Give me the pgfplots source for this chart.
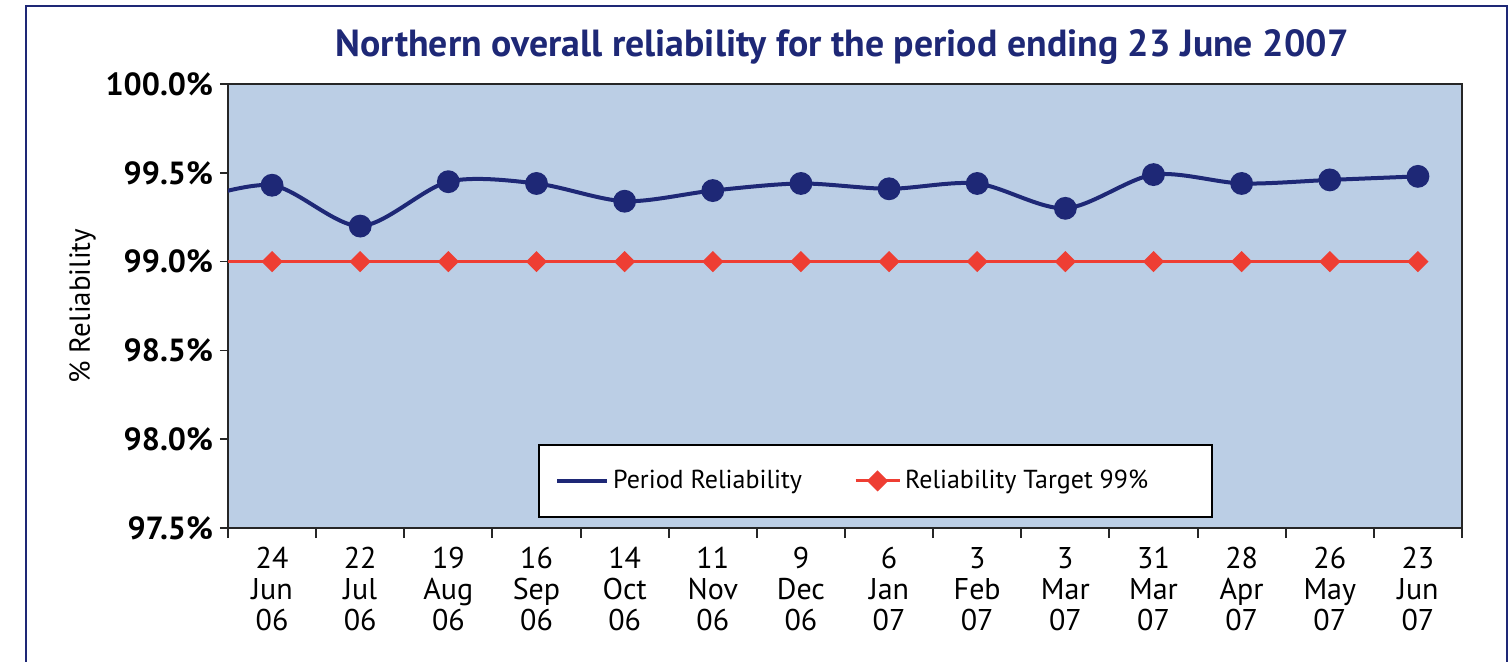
\documentclass[border=0pt]{standalone}
\usepackage{fontspec}
\setmainfont{PT Sans}
\usepackage{pgfplots}
\pgfplotsset{compat=1.18}
\definecolor{navy}{RGB}{30,40,118}
\definecolor{bgblue}{RGB}{187,206,229}
\definecolor{tred}{RGB}{238,62,51}
\begin{document}
\begin{tikzpicture}
\useasboundingbox (0,0) rectangle (755pt,330.5pt);
\draw[navy, line width=1.3pt] (13pt,-10pt) -- (13pt,327.5pt) -- (753.5pt,327.5pt) -- (753.5pt,-10pt);
\node[anchor=base, font=\bfseries\fontsize{18.9}{22}\selectfont, text=navy, inner sep=0pt] at (421pt,302.5pt) {Northern overall reliability for the period ending 23 June 2007};
\begin{axis}[
  at={(114pt,66.5pt)}, anchor=south west,
  scale only axis, width=617pt, height=222pt,
  xmin=-0.5, xmax=13.5, ymin=97.5, ymax=100,
  axis background/.style={fill=bgblue},
  axis line style={line width=1pt, draw=black!85},
  xtick={0,...,13},
  xticklabels={{24\\Jun\\06},{22\\Jul\\06},{19\\Aug\\06},{16\\Sep\\06},{14\\Oct\\06},{11\\Nov\\06},{9\\Dec\\06},{6\\Jan\\07},{3\\Feb\\07},{3\\Mar\\07},{31\\Mar\\07},{28\\Apr\\07},{26\\May\\07},{23\\Jun\\07}},
  x tick label style={align=center, font=\fontsize{15}{15.5}\selectfont, yshift=-2pt},
  minor xtick={-0.5,0.5,...,13.5},
  major x tick style={draw=none},
  minor x tick style={line width=1pt, black!85},
  minor tick length=5pt,
  major tick length=4pt,
  tick align=outside,
  xtick pos=bottom, ytick pos=left,
  ytick={97.5,98,98.5,99,99.5,100},
  yticklabels={97.5\%,98.0\%,98.5\%,99.0\%,99.5\%,100.0\%},
  y tick label style={font=\bfseries\fontsize{16}{18}\selectfont},
  y tick style={line width=0.8pt, black!85},
  ylabel={\% Reliability},
  ylabel style={at={(axis description cs:-0.118,0.5)}, anchor=center, font=\fontsize{14.5}{16}\selectfont},
  legend columns=2,
  legend style={at={(axis description cs:0.2512,0.106)}, anchor=west, draw=black, line width=1.2pt, fill=white,
    font=\fontsize{13}{15}\selectfont, inner xsep=8pt, inner ysep=10.5pt,
    /tikz/every even column/.append style={column sep=24pt}},
]
\addplot[navy, line width=2pt, smooth, mark=*, mark size=4.7pt, mark options={fill=navy, draw=navy},
  legend image code/.code={\draw[navy!85!blue, line width=2pt] (0pt,0pt) -- (21pt,0pt); \path (0pt,0pt) -- (25pt,0pt);}]
  coordinates {(-1,99.33) (0,99.43) (1,99.20) (2,99.45) (3,99.44) (4,99.34) (5,99.40) (6,99.44) (7,99.41) (8,99.44) (9,99.30) (10,99.49) (11,99.44) (12,99.46) (13,99.48)};
\addlegendentry{Period Reliability}
\addplot[tred, line width=1.5pt, mark=square*, mark size=3pt, mark options={fill=tred, draw=tred, rotate=45},
  legend image code/.code={\draw[tred, line width=1.5pt] (0pt,0pt) -- (22pt,0pt); \fill[tred] (11pt,4.2pt) -- (15.2pt,0pt) -- (11pt,-4.2pt) -- (6.8pt,0pt) -- cycle;}]
  coordinates {(-1,99) (0,99) (1,99) (2,99) (3,99) (4,99) (5,99) (6,99) (7,99) (8,99) (9,99) (10,99) (11,99) (12,99) (13,99)};
\addlegendentry{Reliability Target 99\%\hspace*{22pt}\mbox{}}
\end{axis}
\end{tikzpicture}
\end{document}
